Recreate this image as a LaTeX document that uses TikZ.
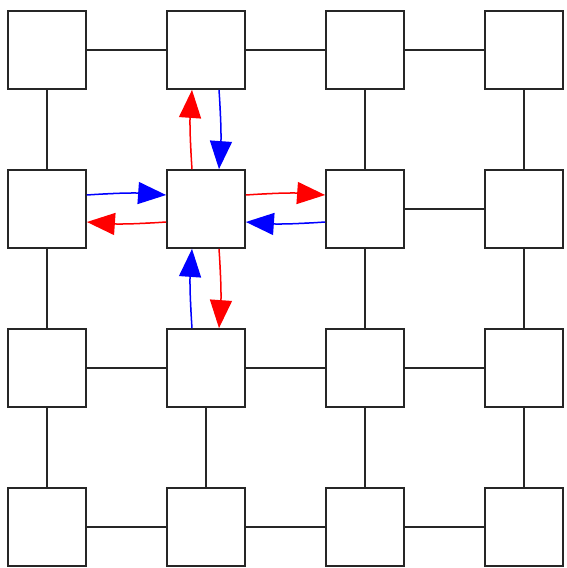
\documentclass[tikz,border=0pt]{standalone}
\usepackage{tikz}
\usetikzlibrary{arrows.meta}
\tikzset{
  cell/.style = {
    rectangle, draw=black!85, line width=1.8pt,
    fill=white, minimum size=78pt, inner sep=0pt
  },
  link/.style = {draw=black!85, line width=1.7pt},
  arrred/.style = {-{Triangle[length=28pt,width=22pt]}, draw=red,
    fill=red, line width=1.5pt},
  arrblu/.style = {-{Triangle[length=28pt,width=22pt]}, draw=blue,
    fill=blue, line width=1.5pt},
}
\begin{document}
\begin{tikzpicture}[x=1pt, y=-1pt]
  \useasboundingbox[fill=white] (0,0) rectangle (566,568);

  % grid of cells
  \foreach \r in {0,...,3}
    \foreach \c in {0,...,3}
      \node[cell] (n\r\c) at ({47+159*\c},{50+159*\r}) {};

  % plain links
  \foreach \a/\b in {00/01,01/02,02/03,12/13,20/21,21/22,22/23,
                     30/31,31/32,32/33,00/10,02/12,03/13,10/20,
                     12/22,13/23,20/30,21/31,22/32,23/33}
    \draw[link] (n\a) -- (n\b);

  %% Arrows round the centre cell
  \draw[arrred] ([xshift=-14pt]n11.north) to[bend left=4] ([xshift=-14pt]n01.south);
  \draw[arrblu] ([xshift=13pt]n01.south)  to[bend left=4] ([xshift=13pt]n11.north);
  \draw[arrblu] ([yshift=14pt]n10.east)   to[bend left=4] ([yshift=14pt]n11.west);
  \draw[arrred] ([yshift=-13pt]n11.west)  to[bend left=4] ([yshift=-13pt]n10.east);
  \draw[arrred] ([yshift=14pt]n11.east)   to[bend left=4] ([yshift=14pt]n12.west);
  \draw[arrblu] ([yshift=-13pt]n12.west)  to[bend left=4] ([yshift=-13pt]n11.east);
  \draw[arrred] ([xshift=13pt]n11.south)  to[bend left=4] ([xshift=13pt]n21.north);
  \draw[arrblu] ([xshift=-14pt]n21.north) to[bend left=4] ([xshift=-14pt]n11.south);

\end{tikzpicture}
\end{document}
